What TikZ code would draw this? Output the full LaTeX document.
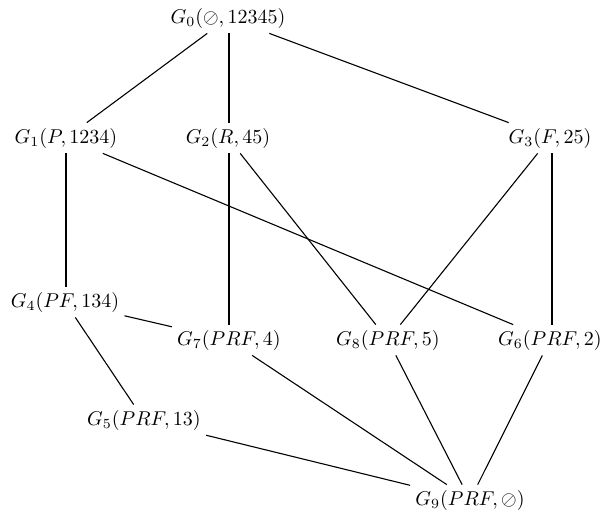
\documentclass[tikz,border=0pt]{standalone}
\usepackage{amsmath}
\begin{document}
\begin{tikzpicture}[x=0.5pt,y=-0.5pt,
  gnode/.style={inner sep=2.5pt, font=\normalsize},
  edge/.style={draw, line width=0.55pt}]
\useasboundingbox (0,0) rectangle (600,516);
\node[gnode] (g0) at (228,18) {$G_0(\oslash, 12345)$};
\node[gnode] (g1) at (66,138) {$G_1(P, 1234)$};
\node[gnode] (g2) at (228,138) {$G_2(R, 45)$};
\node[gnode] (g3) at (550,138) {$G_3(F, 25)$};
\node[gnode] (g4) at (65,302) {$G_4(PF, 134)$};
\node[gnode] (g7) at (229,340) {$G_7(PRF, 4)$};
\node[gnode] (g8) at (388,340) {$G_8(PRF, 5)$};
\node[gnode] (g6) at (550,340) {$G_6(PRF, 2)$};
\node[gnode] (g5) at (144,420) {$G_5(PRF, 13)$};
\node[gnode] (g9) at (470,500) {$G_9(PRF, \oslash)$};
\path[edge] (g0) -- (g1);
\path[edge] (g0.south -| 229,0) -- (g2.north -| 229,0);
\path[edge] (g0) -- (g3);
\path[edge] (g1.south -| 66,0) -- (g4.north -| 66,0);
\path[edge] (g1) -- (g6);
\path[edge] (g2.south -| 229,0) -- (g7.north -| 229,0);
\path[edge] (g2) -- (g8);
\path[edge] (g3) -- (g8);
\path[edge] (g3.south -| 552,0) -- (g6.north -| 552,0);
\path[edge] (g4) -- (g7);
\path[edge] (g4) -- (g5);
\path[edge] (g7) -- (g9);
\path[edge] (g8) -- (g9);
\path[edge] (g6) -- (g9);
\path[edge] (g5) -- (g9);
\end{tikzpicture}
\end{document}
